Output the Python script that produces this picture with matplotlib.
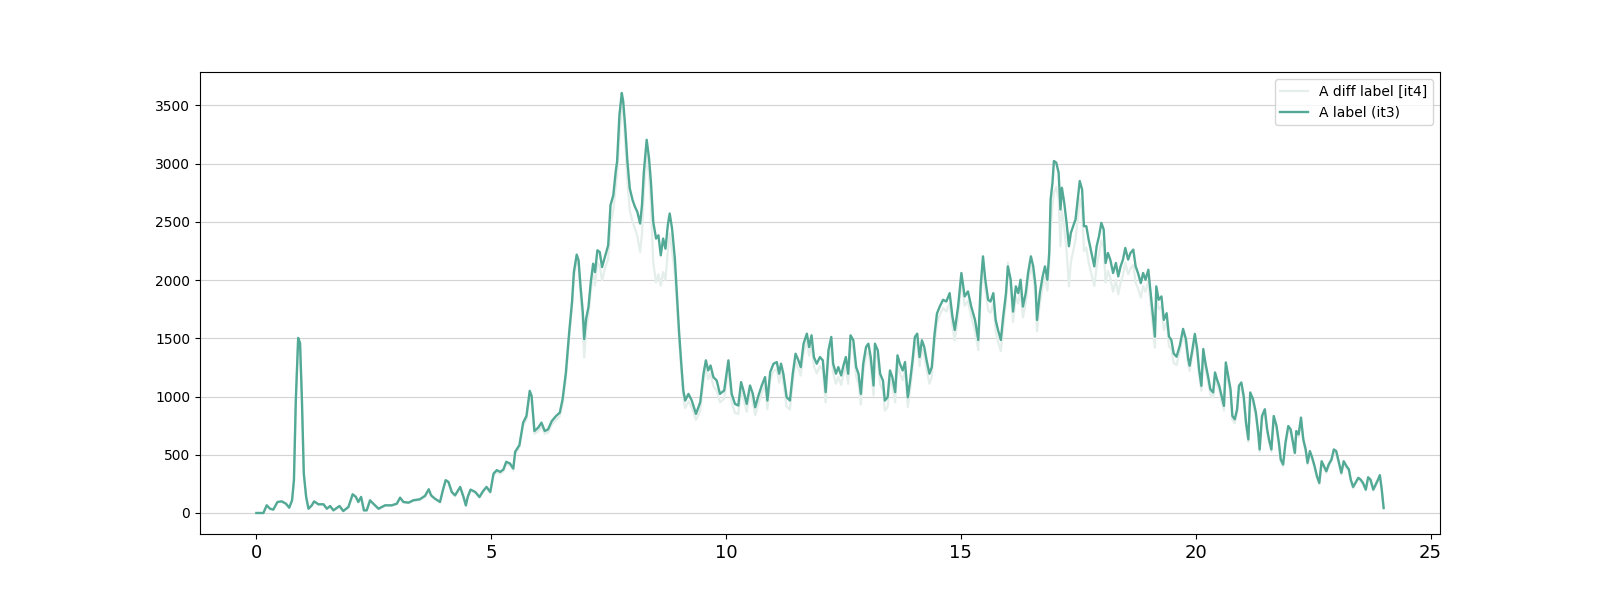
import numpy as np
import matplotlib
matplotlib.use("Agg")
import matplotlib.pyplot as plt

# hours of day
hours = [
    # 0 - 5.6
    0.00, 0.15, 0.22, 0.29, 0.36, 0.45, 0.54, 0.63, 0.70, 0.76,
    0.80, 0.84, 0.89, 0.93, 0.97, 1.01, 1.06, 1.11, 1.18, 1.23,
    1.32, 1.43, 1.50, 1.57, 1.64, 1.77, 1.85, 1.96, 2.05, 2.12,
    2.17, 2.23, 2.29, 2.35, 2.42, 2.49, 2.60, 2.74, 2.88, 2.99,
    3.06, 3.13, 3.24, 3.34, 3.48, 3.59, 3.67, 3.72, 3.80, 3.91,
    3.97, 4.03, 4.09, 4.16, 4.23, 4.34, 4.41, 4.46, 4.50, 4.56,
    4.66, 4.75, 4.83, 4.90, 4.98, 5.05, 5.12, 5.19, 5.26, 5.32,
    5.40, 5.47, 5.51, 5.60,
    # 5.6 - 9.05
    5.68, 5.75, 5.82, 5.86, 5.92, 6.00, 6.07, 6.14, 6.21, 6.29,
    6.38, 6.46, 6.52, 6.59, 6.66, 6.72, 6.76, 6.82, 6.86, 6.90,
    6.95, 6.98, 7.02, 7.07, 7.12, 7.17, 7.21, 7.26, 7.31, 7.36,
    7.42, 7.49, 7.54, 7.60, 7.65, 7.68, 7.73, 7.78, 7.81, 7.85,
    7.90, 7.95, 8.01, 8.06, 8.11, 8.17, 8.21, 8.25, 8.31, 8.36,
    8.40, 8.45, 8.51, 8.56, 8.61, 8.66, 8.71, 8.76, 8.80, 8.85,
    8.91, 8.96, 9.00, 9.05,
    # 9.05 - 14.5
    9.09, 9.13, 9.20, 9.27, 9.36, 9.45, 9.52, 9.57, 9.62, 9.67,
    9.73, 9.80, 9.87, 9.96, 10.05, 10.12, 10.19, 10.26, 10.32, 10.37,
    10.44, 10.51, 10.57, 10.62, 10.69, 10.76, 10.83, 10.88, 10.94, 11.01,
    11.08, 11.13, 11.17, 11.22, 11.29, 11.36, 11.42, 11.48, 11.54, 11.59,
    11.65, 11.72, 11.77, 11.82, 11.87, 11.93, 12.00, 12.06, 12.12, 12.18,
    12.24, 12.28, 12.34, 12.39, 12.45, 12.50, 12.55, 12.60, 12.65, 12.71,
    12.77, 12.82, 12.87, 12.92, 12.98, 13.03, 13.08, 13.14, 13.17, 13.23,
    13.28, 13.34, 13.38, 13.44, 13.49, 13.54, 13.60, 13.65, 13.70, 13.76,
    13.81, 13.87, 13.92, 13.97, 14.02, 14.07, 14.12, 14.17, 14.22, 14.27,
    14.33, 14.38, 14.44, 14.49,
    # 14.5 - 19.6
    14.55, 14.62, 14.69, 14.76, 14.82, 14.87, 14.94, 15.01, 15.08, 15.15,
    15.22, 15.30, 15.37, 15.42, 15.47, 15.52, 15.58, 15.63, 15.69, 15.74,
    15.79, 15.85, 15.90, 15.96, 16.00, 16.06, 16.11, 16.17, 16.22, 16.27,
    16.32, 16.38, 16.43, 16.49, 16.54, 16.59, 16.62, 16.68, 16.74, 16.79,
    16.84, 16.88, 16.91, 16.95, 16.98, 17.03, 17.08, 17.12, 17.15, 17.20,
    17.25, 17.30, 17.34, 17.39, 17.44, 17.48, 17.53, 17.58, 17.62, 17.67,
    17.72, 17.78, 17.84, 17.89, 17.94, 17.99, 18.04, 18.08, 18.13, 18.18,
    18.24, 18.30, 18.35, 18.40, 18.45, 18.50, 18.56, 18.61, 18.67, 18.72,
    18.77, 18.83, 18.88, 18.93, 18.99, 19.04, 19.09, 19.13, 19.16, 19.21,
    19.27, 19.32, 19.38, 19.43, 19.48, 19.53, 19.59,
    # 19.6 - 24
    19.66, 19.73, 19.79, 19.84, 19.87, 19.93, 19.98, 20.03, 20.07, 20.12,
    20.16, 20.21, 20.26, 20.31, 20.37, 20.41, 20.45, 20.50, 20.55, 20.60,
    20.64, 20.69, 20.74, 20.78, 20.83, 20.88, 20.92, 20.97, 21.02, 21.07,
    21.12, 21.16, 21.22, 21.28, 21.33, 21.36, 21.41, 21.47, 21.52, 21.56,
    21.61, 21.66, 21.72, 21.77, 21.81, 21.86, 21.91, 21.97, 22.02, 22.07,
    22.11, 22.14, 22.19, 22.24, 22.29, 22.34, 22.38, 22.43, 22.48, 22.53,
    22.58, 22.63, 22.68, 22.73, 22.78, 22.83, 22.89, 22.94, 22.99, 23.05,
    23.10, 23.15, 23.21, 23.26, 23.30, 23.35, 23.40, 23.46, 23.51, 23.56,
    23.62, 23.67, 23.72, 23.78, 23.83, 23.88, 23.92, 23.96, 24.00,
]

it3 = [
    0, 0, 66, 37, 29, 95, 100, 80, 46, 109,
    282, 971, 1503, 1460, 971, 339, 138, 37, 66, 100,
    75, 75, 37, 60, 23, 60, 17, 52, 161, 138,
    95, 138, 23, 23, 109, 80, 37, 66, 66, 80,
    132, 95, 89, 109, 118, 147, 204, 152, 124, 95,
    195, 282, 267, 181, 152, 224, 138, 66, 138, 201,
    181, 138, 190, 224, 181, 339, 368, 353, 374, 440,
    425, 382, 526, 583,

    776, 833, 1049, 1006, 704, 733, 776, 704, 718, 790,
    833, 862, 977, 1207, 1552, 1811, 2069, 2219, 2170, 1954,
    1724, 1494, 1667, 1767, 1983, 2141, 2069, 2256, 2242, 2112,
    2199, 2299, 2644, 2730, 2931, 3018, 3420, 3607, 3535, 3334,
    3018, 2788, 2687, 2630, 2587, 2486, 2644, 2931, 3205, 3046,
    2845, 2500, 2357, 2385, 2213, 2357, 2270, 2472, 2572, 2443,
    2184, 1839, 1552, 1265,

    1052, 966, 1023, 966, 851, 951, 1196, 1311, 1224, 1267,
    1167, 1138, 1023, 1052, 1311, 1023, 937, 923, 1124, 1052,
    937, 1095, 1023, 908, 1009, 1095, 1167, 966, 1210, 1282,
    1296, 1196, 1282, 1196, 994, 966, 1196, 1368, 1311, 1253,
    1454, 1540, 1425, 1526, 1339, 1282, 1339, 1311, 1038, 1397,
    1512, 1282, 1196, 1253, 1181, 1267, 1339, 1196, 1526, 1483,
    1253, 1196, 1023, 1282, 1425, 1454, 1339, 1095, 1454, 1397,
    1196, 1138, 966, 994, 1224, 1167, 1038, 1354, 1282, 1224,
    1296, 994, 1138, 1311, 1512, 1540, 1339, 1483, 1425, 1311,
    1196, 1253, 1540, 1713,

    1773, 1831, 1816, 1888, 1687, 1572, 1773, 2061, 1860, 1903,
    1773, 1658, 1486, 1946, 2204, 2003, 1831, 1816, 1888, 1658,
    1572, 1486, 1687, 1888, 2118, 2003, 1730, 1946, 1888, 2003,
    1773, 1888, 2061, 2204, 2118, 1946, 1658, 1888, 2032, 2118,
    2003, 2233, 2693, 2837, 3023, 3009, 2923, 2607, 2793, 2664,
    2492, 2291, 2405, 2463, 2521, 2664, 2851, 2779, 2463, 2463,
    2348, 2233, 2118, 2291, 2377, 2492, 2434, 2147, 2233, 2176,
    2061, 2147, 2032, 2118, 2176, 2276, 2176, 2233, 2262, 2118,
    2061, 1974, 2061, 2003, 2089, 1888, 1687, 1515, 1946, 1831,
    1860, 1658, 1716, 1515, 1486, 1371, 1342,

    1437, 1581, 1494, 1322, 1265, 1408, 1538, 1408, 1236, 1092,
    1408, 1279, 1178, 1063, 1035, 1207, 1150, 1092, 1006, 920,
    1293, 1178, 1063, 833, 805, 891, 1092, 1121, 1006, 776,
    632, 1035, 977, 862, 690, 546, 833, 891, 719, 632,
    546, 833, 747, 604, 460, 417, 604, 747, 719, 604,
    517, 704, 675, 819, 632, 546, 431, 532, 474, 402,
    316, 259, 445, 402, 359, 417, 460, 546, 532, 431,
    345, 445, 402, 374, 287, 224, 259, 302, 287, 259,
    201, 307, 287, 201, 244, 287, 325, 201, 43,
]

it4 = [
    0, 0, 64, 35, 27, 92, 97, 77, 43, 105,
    275, 960, 1490, 1450, 960, 330, 132, 33, 62, 96,
    71, 71, 33, 56, 20, 56, 14, 48, 155, 132,
    90, 132, 20, 20, 104, 76, 33, 62, 62, 76,
    127, 90, 84, 104, 112, 140, 196, 145, 118, 90,
    187, 272, 258, 173, 145, 215, 130, 60, 130, 192,
    172, 130, 180, 214, 172, 325, 352, 337, 358, 422,
    407, 365, 505, 560,

    750, 800, 1010, 960, 680, 700, 745, 680, 690, 760,
    800, 830, 940, 1160, 1500, 1760, 2020, 2180, 2120, 1880,
    1600, 1336, 1560, 1700, 1900, 2060, 1954, 2150, 2120, 1997,
    2100, 2180, 2480, 2600, 2800, 2900, 3219, 3520, 3450, 3200,
    2850, 2600, 2500, 2443, 2380, 2242, 2400, 2750, 3080, 2900,
    2650, 2150, 1980, 2050, 1954, 2069, 2000, 2250, 2400, 2250,
    2050, 1750, 1480, 1200,

    990, 900, 960, 905, 800, 880, 1130, 1250, 1150, 1200,
    1090, 1050, 950, 980, 1250, 950, 860, 850, 1050, 980,
    870, 1030, 950, 840, 940, 1030, 1100, 890, 1140, 1220,
    1230, 1120, 1210, 1120, 910, 890, 1120, 1300, 1240, 1180,
    1380, 1470, 1350, 1450, 1260, 1200, 1260, 1230, 950, 1320,
    1440, 1200, 1110, 1170, 1100, 1190, 1260, 1110, 1450, 1410,
    1170, 1110, 930, 1200, 1350, 1380, 1260, 1010, 1380, 1320,
    1110, 1050, 880, 910, 1150, 1090, 950, 1280, 1200, 1140,
    1220, 910, 1060, 1240, 1440, 1470, 1260, 1410, 1350, 1230,
    1110, 1170, 1460, 1630,

    1700, 1760, 1730, 1800, 1600, 1480, 1690, 1980, 1780, 1820,
    1690, 1560, 1400, 1850, 2110, 1920, 1740, 1720, 1800, 1560,
    1470, 1390, 1600, 1810, 2150, 1920, 1640, 1860, 1800, 1920,
    1680, 1800, 1980, 2120, 2030, 1850, 1560, 1800, 1950, 2030,
    1910, 2120, 2450, 2650, 2750, 2800, 2700, 2291, 2600, 2450,
    2250, 1946, 2150, 2250, 2350, 2500, 2700, 2600, 2250, 2280,
    2150, 2050, 1950, 2120, 2220, 2340, 2280, 1980, 2080, 2020,
    1900, 2000, 1880, 1980, 2040, 2150, 2050, 2100, 2130, 1980,
    1930, 1850, 1950, 1900, 1990, 1790, 1590, 1420, 1860, 1750,
    1780, 1570, 1640, 1430, 1410, 1290, 1270,

    1390, 1530, 1440, 1270, 1220, 1360, 1490, 1360, 1190, 1050,
    1360, 1230, 1130, 1020, 990, 1160, 1100, 1050, 960, 880,
    1240, 1130, 1020, 800, 770, 860, 1050, 1080, 970, 745,
    610, 990, 940, 830, 665, 525, 800, 860, 690, 610,
    525, 800, 720, 580, 440, 400, 580, 720, 690, 580,
    495, 680, 650, 790, 610, 525, 415, 510, 455, 385,
    300, 245, 430, 385, 345, 400, 445, 530, 515, 415,
    330, 430, 385, 360, 275, 212, 248, 290, 275, 248,
    192, 295, 275, 192, 232, 275, 312, 192, 40,
]

fig, ax = plt.subplots(figsize=(16, 6), dpi=100)
ax.plot(hours, it4, color="#e4eeeb", lw=1.6, label="A diff label [it4]")
ax.plot(hours, it3, color="#52a995", lw=1.7, label="A label (it3)")

ax.grid(axis="y", color="#d3d3d3", lw=0.8)
ax.set_axisbelow(True)
ax.tick_params(axis="x", labelsize=13)
ax.tick_params(axis="y", labelsize=10)
ax.legend(loc="upper right")

fig.savefig("out.png")
